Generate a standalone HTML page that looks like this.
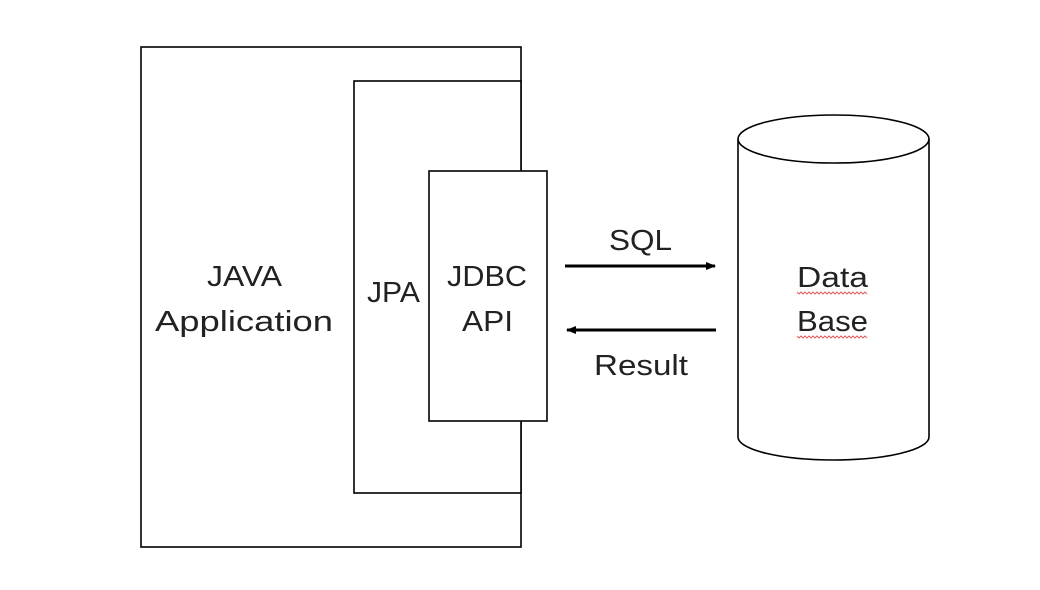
<!DOCTYPE html>
<html><head><meta charset="utf-8"><style>html,body{margin:0;padding:0;background:#fff;width:1040px;height:590px;overflow:hidden}</style></head>
<body>
<svg width="1040" height="590" xmlns="http://www.w3.org/2000/svg" font-family="Liberation Sans, sans-serif" font-size="29" fill="#222">
<defs><marker id="ah" markerWidth="10" markerHeight="8" refX="9" refY="4" orient="auto" markerUnits="userSpaceOnUse"><path d="M0,0 L10,4 L0,8 Z" fill="#000"/></marker></defs>
<g fill="none" stroke="#000" stroke-width="1.6">
<rect x="141" y="47" width="380" height="500"/>
<rect x="354" y="81" width="167" height="412" fill="#fff"/>
<rect x="429" y="171" width="118" height="250" fill="#fff"/>
<path d="M738,139 L738,437 A95.5,23 0 0 0 929,437 L929,139" fill="#fff"/>
<ellipse cx="833.5" cy="139" rx="95.5" ry="24" fill="#fff"/>
<line x1="565" y1="266" x2="715" y2="266" stroke-width="3" marker-end="url(#ah)"/>
<line x1="716" y1="330" x2="567" y2="330" stroke-width="3" marker-end="url(#ah)"/>
</g>
<g stroke="none">
<text x="207" y="286" textLength="75" lengthAdjust="spacingAndGlyphs">JAVA</text>
<text x="155" y="331" textLength="178" lengthAdjust="spacingAndGlyphs">Application</text>
<text x="367" y="302" textLength="53" lengthAdjust="spacingAndGlyphs">JPA</text>
<text x="447" y="286" textLength="80" lengthAdjust="spacingAndGlyphs">JDBC</text>
<text x="462" y="331" textLength="51" lengthAdjust="spacingAndGlyphs">API</text>
<text x="609" y="250" textLength="63" lengthAdjust="spacingAndGlyphs">SQL</text>
<text x="594" y="375" textLength="94" lengthAdjust="spacingAndGlyphs">Result</text>
<text x="797" y="287" textLength="71" lengthAdjust="spacingAndGlyphs">Data</text>
<text x="797" y="331" textLength="71" lengthAdjust="spacingAndGlyphs">Base</text>
</g>
<g fill="none" stroke="#e06060" stroke-width="1">
<path d="M797,292 l2,2 l2,-2 l2,2 l2,-2 l2,2 l2,-2 l2,2 l2,-2 l2,2 l2,-2 l2,2 l2,-2 l2,2 l2,-2 l2,2 l2,-2 l2,2 l2,-2 l2,2 l2,-2 l2,2 l2,-2 l2,2 l2,-2 l2,2 l2,-2 l2,2 l2,-2 l2,2 l2,-2 l2,2 l2,-2 l2,2 l2,-2 l2,2"/>
<path d="M797,336 l2,2 l2,-2 l2,2 l2,-2 l2,2 l2,-2 l2,2 l2,-2 l2,2 l2,-2 l2,2 l2,-2 l2,2 l2,-2 l2,2 l2,-2 l2,2 l2,-2 l2,2 l2,-2 l2,2 l2,-2 l2,2 l2,-2 l2,2 l2,-2 l2,2 l2,-2 l2,2 l2,-2 l2,2 l2,-2 l2,2 l2,-2 l2,2"/>
</g>
</svg>
</body></html>
